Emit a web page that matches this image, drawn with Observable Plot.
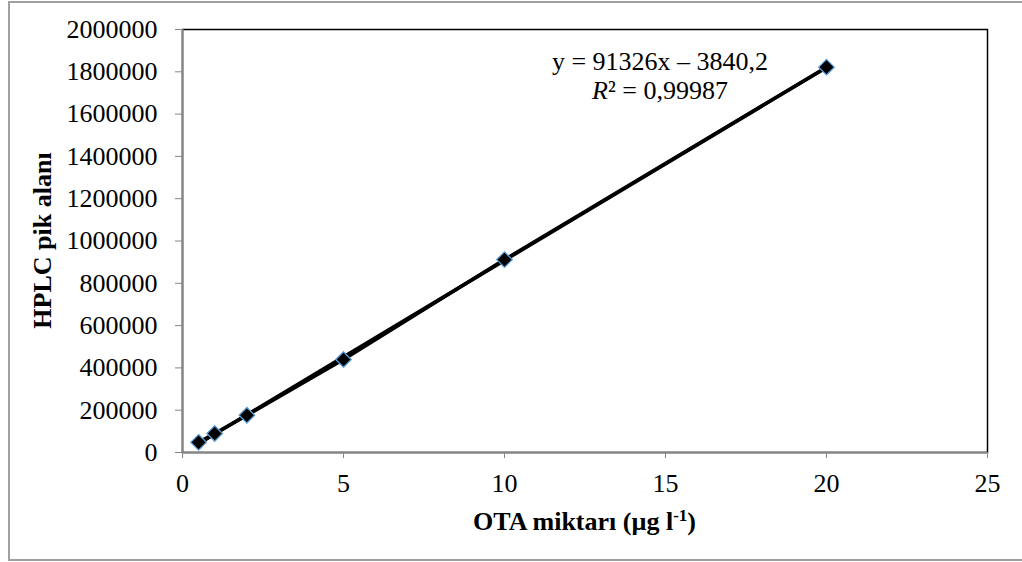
<!DOCTYPE html>
<html>
<head>
<meta charset="utf-8">
<script src="https://cdn.jsdelivr.net/npm/d3@7"></script>
<script src="https://cdn.jsdelivr.net/npm/@observablehq/plot@0.6"></script>
<style>
  html, body { margin: 0; padding: 0; background: #fff; }
  #chart { position: relative; width: 1022px; height: 562px; }
  #chart svg, #chart svg text { font-family: 'Liberation Serif', 'Times New Roman', serif !important; }
</style>
</head>
<body>
<div id="chart"></div>
<script>
// Data
const concentrations = [0.5, 1, 2, 5, 10, 20];           // OTA miktarı (µg l-1)
const peakAreas = [48000, 90000, 176000, 440000, 912000, 1822000]; // HPLC pik alanı
const xTicks = [0, 5, 10, 15, 20, 25];
const yTicks = [0, 200000, 400000, 600000, 800000, 1000000, 1200000, 1400000, 1600000, 1800000, 2000000];
const equationLines = ["y = 91326x – 3840,2", "R² = 0,99987"];

const data = concentrations.map((c, i) => ({x: c, y: peakAreas[i]}));
const FONT = "'Liberation Serif', 'Times New Roman', serif";

const plot = Plot.plot({
  width: 1022,
  height: 562,
  marginLeft: 182,
  marginRight: 35,
  marginTop: 29,
  marginBottom: 110,
  style: {fontFamily: FONT, fontSize: "26px", color: "#000", background: "#fff", overflow: "visible"},
  x: {domain: [0, 25]},
  y: {domain: [0, 2000000]},
  marks: [
    Plot.frame({stroke: "#000", strokeWidth: 1.5}),
    Plot.axisY({ticks: yTicks, tickFormat: d => String(d), tickSize: 7, tickPadding: 18, stroke: "#868686", label: null, fontSize: 26}),
    Plot.axisX({ticks: xTicks, tickFormat: d => String(d), tickSize: 6, tickPadding: 15, stroke: "#868686", label: null, fontSize: 26}),
    Plot.ruleX([0], {stroke: "#868686", strokeWidth: 2}),
    Plot.ruleY([0], {stroke: "#868686", strokeWidth: 2}),
    Plot.line(data, {x: "x", y: "y", stroke: "#000", strokeWidth: 3.5}),
    Plot.linearRegressionY(data, {x: "x", y: "y", stroke: "#000", strokeWidth: 3.5, ci: 0}),
    Plot.dot(data, {x: "x", y: "y", symbol: "diamond2", r: 7, fill: "#000", stroke: "#5b9bd5", strokeWidth: 1.3})
  ]
});

const svg = d3.select(plot);
// Outer chart border
svg.insert("rect", ":first-child")
  .attr("x", 9).attr("y", 2).attr("width", 1030).attr("height", 558)
  .attr("fill", "#fff").attr("stroke", "#a0a0a0").attr("stroke-width", 2);

// Y axis title
svg.append("text")
  .attr("transform", "translate(51,240.5) rotate(-90)")
  .attr("text-anchor", "middle")
  .attr("font-size", 26).attr("font-weight", "bold")
  .attr("fill", "#000")
  .text("HPLC pik alanı");

// X axis title with superscript
const xt = svg.append("text")
  .attr("x", 584.5).attr("y", 530)
  .attr("text-anchor", "middle")
  .attr("font-size", 26).attr("font-weight", "bold")
  .attr("fill", "#000");
xt.append("tspan").text("OTA miktarı (µg l");
xt.append("tspan").attr("font-size", 17).attr("dy", -9).text("-1");
xt.append("tspan").attr("dy", 9).text(")");

// Regression equation
svg.append("text")
  .attr("x", 660).attr("y", 70)
  .attr("text-anchor", "middle")
  .attr("font-size", 26).attr("fill", "#000")
  .text(equationLines[0]);
const r2 = svg.append("text")
  .attr("x", 660).attr("y", 99)
  .attr("text-anchor", "middle")
  .attr("font-size", 26).attr("fill", "#000");
r2.append("tspan").attr("font-style", "italic").text(equationLines[1].slice(0, 1));
r2.append("tspan").text(equationLines[1].slice(1));

svg.selectAll("text").attr("font-family", FONT);

document.getElementById("chart").appendChild(plot);
</script>
</body>
</html>
